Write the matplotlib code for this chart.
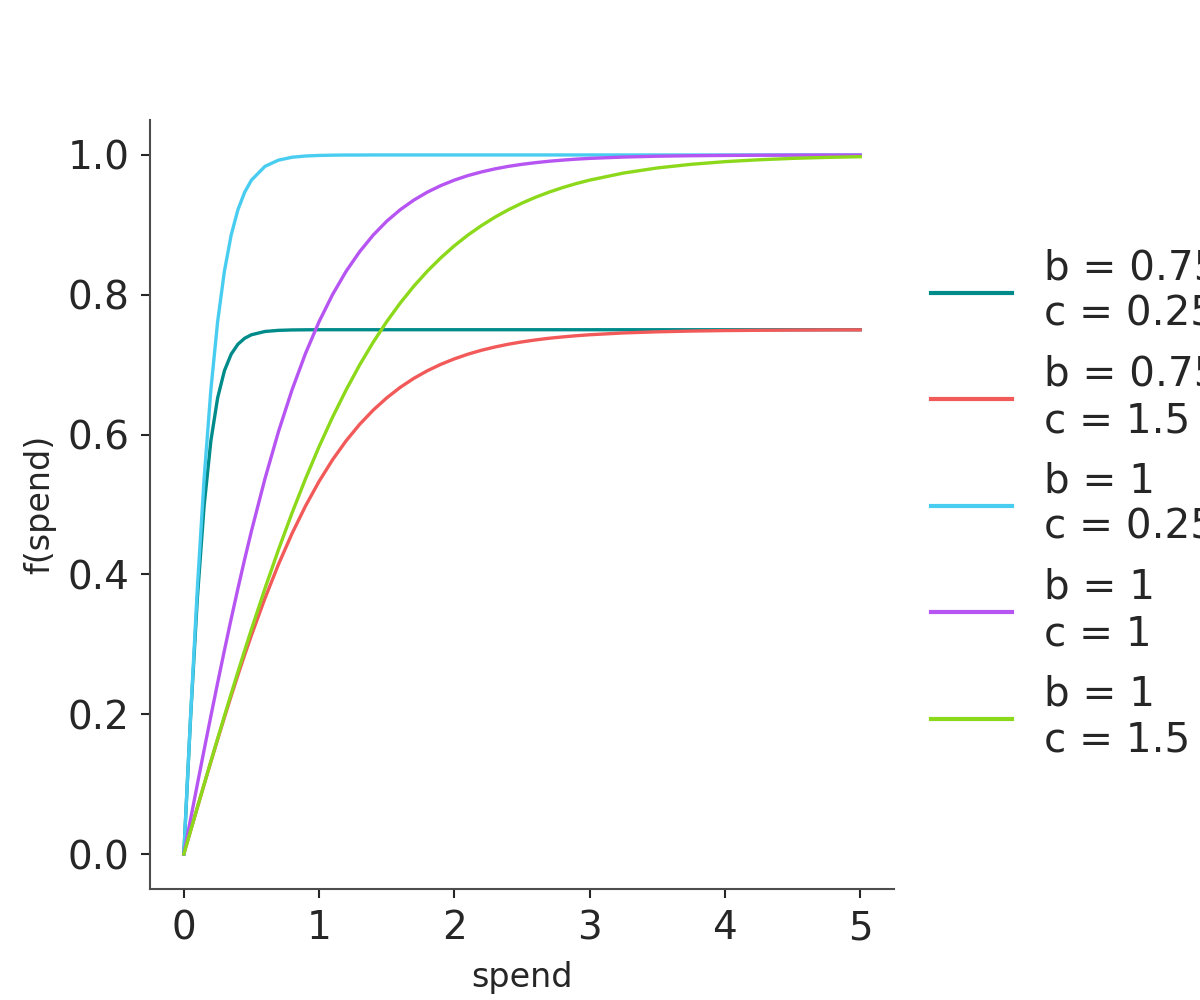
import matplotlib
matplotlib.use("Agg")
import matplotlib.pyplot as plt

# spend values at which curves were read
spend = [0, 0.05, 0.1, 0.15, 0.2, 0.25, 0.3, 0.35, 0.4, 0.45, 0.5,
         0.6, 0.7, 0.8, 0.9, 1.0, 1.1, 1.2, 1.3, 1.4, 1.5, 1.6, 1.7, 1.8, 1.9, 2.0,
         2.1, 2.2, 2.3, 2.4, 2.5, 2.6, 2.7, 2.8, 2.9, 3.0,
         3.25, 3.5, 3.75, 4.0, 4.25, 4.5, 4.75, 5.0]

f_b075_c025 = [0, 0.1954, 0.3659, 0.4980, 0.5911, 0.6525, 0.6913, 0.7150, 0.7293, 0.7378, 0.7428,
               0.7475, 0.7491, 0.7497, 0.7499, 0.75, 0.75, 0.75, 0.75, 0.75, 0.75, 0.75, 0.75, 0.75, 0.75, 0.75,
               0.75, 0.75, 0.75, 0.75, 0.75, 0.75, 0.75, 0.75, 0.75, 0.75,
               0.75, 0.75, 0.75, 0.75, 0.75, 0.75, 0.75, 0.75]
f_b075_c15 = [0, 0.0333, 0.0665, 0.0994, 0.1319, 0.1640, 0.1954, 0.2261, 0.2560, 0.2850, 0.3130,
              0.3659, 0.4145, 0.4585, 0.4980, 0.5331, 0.5641, 0.5912, 0.6147, 0.6350, 0.6525, 0.6676, 0.6804, 0.6913, 0.7005, 0.7083,
              0.7150, 0.7206, 0.7253, 0.7293, 0.7326, 0.7354, 0.7378, 0.7397, 0.7414, 0.7428,
              0.7454, 0.7470, 0.7481, 0.7488, 0.7492, 0.7495, 0.7497, 0.7498]
f_b1_c025 = [0, 0.1974, 0.3799, 0.5370, 0.6640, 0.7616, 0.8337, 0.8854, 0.9217, 0.9468, 0.9640,
             0.9837, 0.9926, 0.9967, 0.9985, 0.9993, 0.9997, 0.9999, 0.9999, 1.0, 1.0, 1.0, 1.0, 1.0, 1.0, 1.0,
             1.0, 1.0, 1.0, 1.0, 1.0, 1.0, 1.0, 1.0, 1.0, 1.0,
             1.0, 1.0, 1.0, 1.0, 1.0, 1.0, 1.0, 1.0]
f_b1_c1 = [0, 0.0500, 0.0997, 0.1489, 0.1974, 0.2449, 0.2913, 0.3364, 0.3799, 0.4219, 0.4621,
           0.5370, 0.6044, 0.6640, 0.7163, 0.7616, 0.8005, 0.8337, 0.8617, 0.8854, 0.9052, 0.9217, 0.9354, 0.9468, 0.9562, 0.9640,
           0.9705, 0.9757, 0.9801, 0.9837, 0.9866, 0.9890, 0.9910, 0.9926, 0.9940, 0.9951,
           0.9970, 0.9982, 0.9989, 0.9993, 0.9996, 0.9998, 0.9999, 0.9999]
f_b1_c15 = [0, 0.0333, 0.0666, 0.0997, 0.1326, 0.1651, 0.1974, 0.2292, 0.2605, 0.2913, 0.3215,
            0.3799, 0.4355, 0.4879, 0.5370, 0.5828, 0.6251, 0.6640, 0.6997, 0.7321, 0.7616, 0.7882, 0.8122, 0.8337, 0.8529, 0.8701,
            0.8854, 0.8989, 0.9110, 0.9217, 0.9311, 0.9395, 0.9468, 0.9533, 0.9590, 0.9640,
            0.9741, 0.9814, 0.9866, 0.9904, 0.9931, 0.9951, 0.9965, 0.9975]

series = [f_b075_c025, f_b075_c15, f_b1_c025, f_b1_c1, f_b1_c15]
labels = ["b = 0.75\nc = 0.25", "b = 0.75\nc = 1.5", "b = 1\nc = 0.25", "b = 1\nc = 1", "b = 1\nc = 1.5"]
colors = ["#008b8b", "#f25a5a", "#48cdf0", "#b655f2", "#8cd81a"]

text_color = "#262626"
plt.rcParams["font.family"] = ["DejaVu Sans"]

fig = plt.figure(figsize=(12, 10), dpi=100)
ax = fig.add_axes([0.125, 0.111, 0.62, 0.769])

for y, lab, col in zip(series, labels, colors):
    ax.plot(spend, y, color=col, lw=2.4, label=lab)

ax.set_xticks([0, 1, 2, 3, 4, 5])
ax.set_yticks([0.0, 0.2, 0.4, 0.6, 0.8, 1.0])
ax.set_yticklabels(["0.0", "0.2", "0.4", "0.6", "0.8", "1.0"])
ax.set_xlabel("spend", fontsize=24, color=text_color, labelpad=10)
ax.set_ylabel("f(spend)", fontsize=24, color=text_color, labelpad=8)
ax.tick_params(axis="both", labelsize=28, colors=text_color, length=6.5, width=1.5, pad=8)
for s in ["top", "right"]:
    ax.spines[s].set_visible(False)
for s in ["left", "bottom"]:
    ax.spines[s].set_color("#4d4d4d")
    ax.spines[s].set_linewidth(1.5)

leg = ax.legend(loc="center left", bbox_to_anchor=(1, 0.5), frameon=False, fontsize=29.2)
for t in leg.get_texts():
    t.set_color(text_color)
for h in leg.get_lines():
    h.set_linewidth(3)

fig.savefig("out.png", dpi=100)
